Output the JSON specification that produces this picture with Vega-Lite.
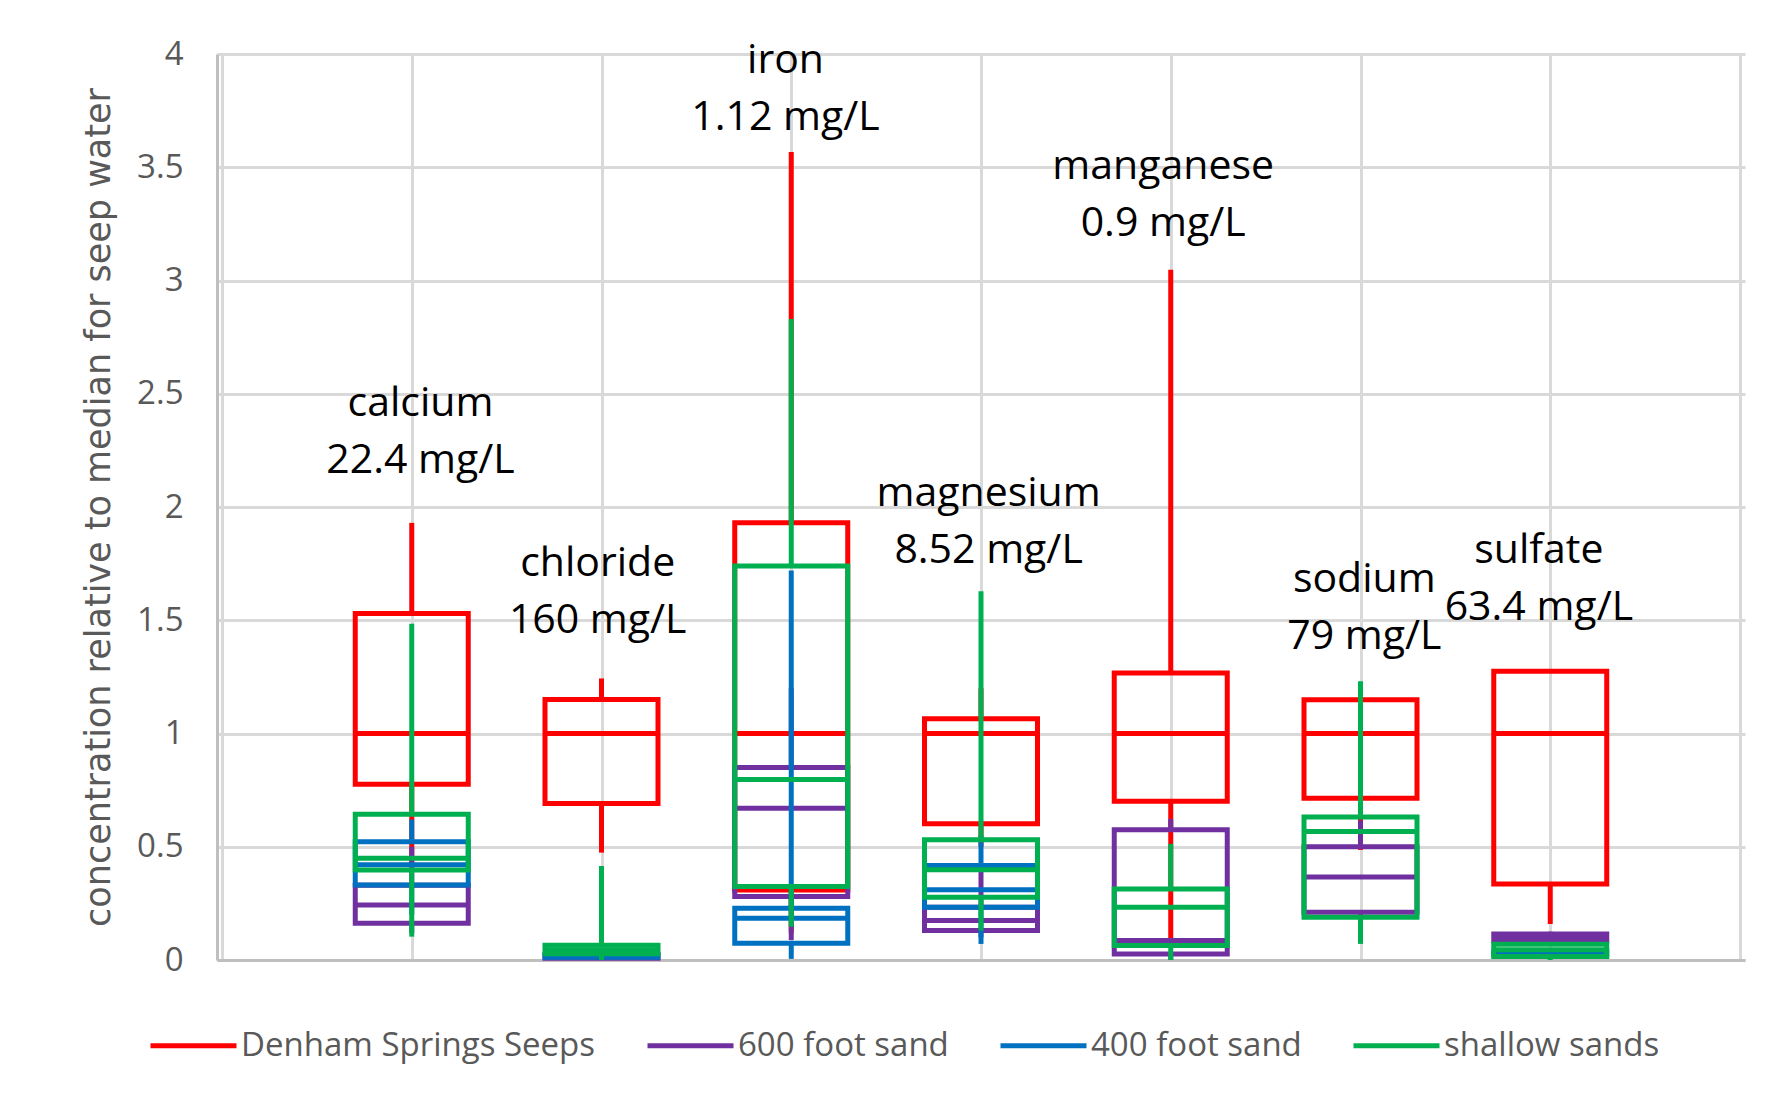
{
  "$schema": "https://vega.github.io/schema/vega-lite/v6.json",
  "width": 1528,
  "height": 906,
  "autosize": {"type": "none"},
  "padding": {"left": 217, "top": 54, "right": 46, "bottom": 141},
  "background": "white",
  "config": {
    "view": {"stroke": null},
    "font": "Open Sans",
    "axisX": {"gridColor": "#d9d9d9", "gridWidth": 3, "domainColor": "#bfbfbf", "domainWidth": 3},
    "axisY": {"gridColor": "#d9d9d9", "gridWidth": 3, "domainColor": "#bfbfbf", "domainWidth": 3, "ticks": false,
      "labelFont": "Open Sans", "labelFontSize": 33, "labelColor": "#595959", "labelPadding": 34,
      "titleFont": "DejaVu Sans", "titleFontSize": 35, "titleColor": "#595959", "titleFontWeight": "normal", "titlePadding": 20}
  },
  "datasets": {
    "boxes": [
      {"constituent": "calcium", "pos": 1, "group": "Denham Springs Seeps", "lo": 0.41, "q1": 0.776, "med": 1.0, "q3": 1.53, "hi": 1.93},
      {"constituent": "calcium", "pos": 1, "group": "600 foot sand", "lo": 0.12, "q1": 0.162, "med": 0.243, "q3": 0.33, "hi": 0.50},
      {"constituent": "calcium", "pos": 1, "group": "400 foot sand", "lo": 0.20, "q1": 0.331, "med": 0.42, "q3": 0.522, "hi": 0.62},
      {"constituent": "calcium", "pos": 1, "group": "shallow sands", "lo": 0.103, "q1": 0.397, "med": 0.449, "q3": 0.643, "hi": 1.485},
      {"constituent": "chloride", "pos": 2, "group": "Denham Springs Seeps", "lo": 0.474, "q1": 0.691, "med": 1.0, "q3": 1.15, "hi": 1.243},
      {"constituent": "chloride", "pos": 2, "group": "600 foot sand", "lo": 0.0, "q1": 0.008, "med": 0.012, "q3": 0.02, "hi": 0.03},
      {"constituent": "chloride", "pos": 2, "group": "400 foot sand", "lo": 0.003, "q1": 0.012, "med": 0.018, "q3": 0.025, "hi": 0.04},
      {"constituent": "chloride", "pos": 2, "group": "shallow sands", "lo": 0.0, "q1": 0.028, "med": 0.045, "q3": 0.065, "hi": 0.415},
      {"constituent": "iron", "pos": 3, "group": "Denham Springs Seeps", "lo": 0.12, "q1": 0.309, "med": 1.0, "q3": 1.93, "hi": 3.567},
      {"constituent": "iron", "pos": 3, "group": "600 foot sand", "lo": 0.088, "q1": 0.28, "med": 0.67, "q3": 0.85, "hi": 1.2},
      {"constituent": "iron", "pos": 3, "group": "400 foot sand", "lo": 0.005, "q1": 0.074, "med": 0.184, "q3": 0.228, "hi": 1.72},
      {"constituent": "iron", "pos": 3, "group": "shallow sands", "lo": 0.147, "q1": 0.324, "med": 0.797, "q3": 1.74, "hi": 2.83},
      {"constituent": "magnesium", "pos": 4, "group": "Denham Springs Seeps", "lo": 0.5, "q1": 0.601, "med": 1.0, "q3": 1.065, "hi": 1.2},
      {"constituent": "magnesium", "pos": 4, "group": "600 foot sand", "lo": 0.1, "q1": 0.13, "med": 0.174, "q3": 0.233, "hi": 0.42},
      {"constituent": "magnesium", "pos": 4, "group": "400 foot sand", "lo": 0.071, "q1": 0.233, "med": 0.31, "q3": 0.417, "hi": 0.55},
      {"constituent": "magnesium", "pos": 4, "group": "shallow sands", "lo": 0.13, "q1": 0.277, "med": 0.398, "q3": 0.531, "hi": 1.628},
      {"constituent": "manganese", "pos": 5, "group": "Denham Springs Seeps", "lo": 0.08, "q1": 0.701, "med": 1.0, "q3": 1.267, "hi": 3.047},
      {"constituent": "manganese", "pos": 5, "group": "600 foot sand", "lo": 0.0, "q1": 0.027, "med": 0.086, "q3": 0.575, "hi": 0.623},
      {"constituent": "manganese", "pos": 5, "group": "shallow sands", "lo": 0.0, "q1": 0.064, "med": 0.233, "q3": 0.314, "hi": 0.513},
      {"constituent": "sodium", "pos": 6, "group": "Denham Springs Seeps", "lo": 0.486, "q1": 0.714, "med": 1.0, "q3": 1.149, "hi": 1.2},
      {"constituent": "sodium", "pos": 6, "group": "600 foot sand", "lo": 0.15, "q1": 0.211, "med": 0.366, "q3": 0.50, "hi": 0.616},
      {"constituent": "sodium", "pos": 6, "group": "shallow sands", "lo": 0.071, "q1": 0.189, "med": 0.567, "q3": 0.631, "hi": 1.231},
      {"constituent": "sulfate", "pos": 7, "group": "Denham Springs Seeps", "lo": 0.159, "q1": 0.336, "med": 1.0, "q3": 1.275, "hi": 1.275},
      {"constituent": "sulfate", "pos": 7, "group": "600 foot sand", "lo": 0.075, "q1": 0.085, "med": 0.1, "q3": 0.115, "hi": 0.125},
      {"constituent": "sulfate", "pos": 7, "group": "400 foot sand", "lo": 0.02, "q1": 0.025, "med": 0.03, "q3": 0.035, "hi": 0.04},
      {"constituent": "sulfate", "pos": 7, "group": "shallow sands", "lo": 0.0, "q1": 0.015, "med": 0.045, "q3": 0.07, "hi": 0.075}
    ],
    "labels": [
      {"pos": 1.046, "ty": 2.456, "label": ["calcium", "22.4 mg/L"]},
      {"pos": 1.98, "ty": 1.75, "label": ["chloride", "160 mg/L"]},
      {"pos": 2.97, "ty": 3.97, "label": ["iron", "1.12 mg/L"]},
      {"pos": 4.04, "ty": 2.056, "label": ["magnesium", "8.52 mg/L"]},
      {"pos": 4.96, "ty": 3.5, "label": ["manganese", "0.9 mg/L"]},
      {"pos": 6.02, "ty": 1.676, "label": ["sodium", "79 mg/L"]},
      {"pos": 6.94, "ty": 1.806, "label": ["sulfate", "63.4 mg/L"]}
    ]
  },
  "layer": [
    {
      "data": {"name": "boxes"},
      "encoding": {
        "x": {"field": "pos", "type": "quantitative", "scale": {"domain": [0, 8], "nice": false},
          "axis": {"values": [0, 1, 2, 3, 4, 5, 6, 7, 8], "labels": false, "ticks": false, "grid": true}, "title": null},
        "color": {"field": "group", "type": "nominal",
          "scale": {"domain": ["Denham Springs Seeps", "600 foot sand", "400 foot sand", "shallow sands"], "range": ["#FF0000", "#7030A0", "#0070C0", "#00B050"]},
          "legend": {"orient": "none", "legendX": -69, "legendY": 946, "direction": "horizontal", "title": null,
            "symbolType": "stroke", "symbolSize": 7396, "symbolStrokeWidth": 5, "labelLimit": 600,
            "labelFont": "Open Sans", "labelFontSize": 33, "labelColor": "#595959", "labelOffset": 2, "columnPadding": 41, "padding": 0}}
      },
      "layer": [
        {
          "transform": [{"filter": "datum.group === 'Denham Springs Seeps'"}],
          "layer": [
            {"mark": {"type": "rule", "strokeWidth": 5}, "encoding": {"y": {"field": "q3", "type": "quantitative", "scale": {"domain": [0, 4], "nice": false}, "title": "concentration relative to median for seep water", "axis": {"values": [0, 0.5, 1, 1.5, 2, 2.5, 3, 3.5, 4], "format": "~g"}}, "y2": {"field": "hi"}}},
            {"mark": {"type": "rule", "strokeWidth": 5}, "encoding": {"y": {"field": "lo", "type": "quantitative", "scale": {"domain": [0, 4], "nice": false}, "title": "concentration relative to median for seep water", "axis": {"values": [0, 0.5, 1, 1.5, 2, 2.5, 3, 3.5, 4], "format": "~g"}}, "y2": {"field": "q1"}}},
            {"mark": {"type": "bar", "filled": false, "width": 113, "strokeWidth": 5, "opacity": 1}, "encoding": {"y": {"field": "q1", "type": "quantitative", "scale": {"domain": [0, 4], "nice": false}, "title": "concentration relative to median for seep water", "axis": {"values": [0, 0.5, 1, 1.5, 2, 2.5, 3, 3.5, 4], "format": "~g"}}, "y2": {"field": "q3"}}},
            {"mark": {"type": "tick", "orient": "horizontal", "size": 113, "thickness": 5, "opacity": 1}, "encoding": {"y": {"field": "med", "type": "quantitative", "scale": {"domain": [0, 4], "nice": false}, "title": "concentration relative to median for seep water", "axis": {"values": [0, 0.5, 1, 1.5, 2, 2.5, 3, 3.5, 4], "format": "~g"}}}}
          ]
        },
        {
          "transform": [{"filter": "datum.group === '600 foot sand'"}],
          "layer": [
            {"mark": {"type": "rule", "strokeWidth": 5}, "encoding": {"y": {"field": "q3", "type": "quantitative", "scale": {"domain": [0, 4], "nice": false}, "title": "concentration relative to median for seep water", "axis": {"values": [0, 0.5, 1, 1.5, 2, 2.5, 3, 3.5, 4], "format": "~g"}}, "y2": {"field": "hi"}}},
            {"mark": {"type": "rule", "strokeWidth": 5}, "encoding": {"y": {"field": "lo", "type": "quantitative", "scale": {"domain": [0, 4], "nice": false}, "title": "concentration relative to median for seep water", "axis": {"values": [0, 0.5, 1, 1.5, 2, 2.5, 3, 3.5, 4], "format": "~g"}}, "y2": {"field": "q1"}}},
            {"mark": {"type": "bar", "filled": false, "width": 113, "strokeWidth": 5, "opacity": 1}, "encoding": {"y": {"field": "q1", "type": "quantitative", "scale": {"domain": [0, 4], "nice": false}, "title": "concentration relative to median for seep water", "axis": {"values": [0, 0.5, 1, 1.5, 2, 2.5, 3, 3.5, 4], "format": "~g"}}, "y2": {"field": "q3"}}},
            {"mark": {"type": "tick", "orient": "horizontal", "size": 113, "thickness": 5, "opacity": 1}, "encoding": {"y": {"field": "med", "type": "quantitative", "scale": {"domain": [0, 4], "nice": false}, "title": "concentration relative to median for seep water", "axis": {"values": [0, 0.5, 1, 1.5, 2, 2.5, 3, 3.5, 4], "format": "~g"}}}}
          ]
        },
        {
          "transform": [{"filter": "datum.group === '400 foot sand'"}],
          "layer": [
            {"mark": {"type": "rule", "strokeWidth": 5}, "encoding": {"y": {"field": "q3", "type": "quantitative", "scale": {"domain": [0, 4], "nice": false}, "title": "concentration relative to median for seep water", "axis": {"values": [0, 0.5, 1, 1.5, 2, 2.5, 3, 3.5, 4], "format": "~g"}}, "y2": {"field": "hi"}}},
            {"mark": {"type": "rule", "strokeWidth": 5}, "encoding": {"y": {"field": "lo", "type": "quantitative", "scale": {"domain": [0, 4], "nice": false}, "title": "concentration relative to median for seep water", "axis": {"values": [0, 0.5, 1, 1.5, 2, 2.5, 3, 3.5, 4], "format": "~g"}}, "y2": {"field": "q1"}}},
            {"mark": {"type": "bar", "filled": false, "width": 113, "strokeWidth": 5, "opacity": 1}, "encoding": {"y": {"field": "q1", "type": "quantitative", "scale": {"domain": [0, 4], "nice": false}, "title": "concentration relative to median for seep water", "axis": {"values": [0, 0.5, 1, 1.5, 2, 2.5, 3, 3.5, 4], "format": "~g"}}, "y2": {"field": "q3"}}},
            {"mark": {"type": "tick", "orient": "horizontal", "size": 113, "thickness": 5, "opacity": 1}, "encoding": {"y": {"field": "med", "type": "quantitative", "scale": {"domain": [0, 4], "nice": false}, "title": "concentration relative to median for seep water", "axis": {"values": [0, 0.5, 1, 1.5, 2, 2.5, 3, 3.5, 4], "format": "~g"}}}}
          ]
        },
        {
          "transform": [{"filter": "datum.group === 'shallow sands'"}],
          "layer": [
            {"mark": {"type": "rule", "strokeWidth": 5}, "encoding": {"y": {"field": "q3", "type": "quantitative", "scale": {"domain": [0, 4], "nice": false}, "title": "concentration relative to median for seep water", "axis": {"values": [0, 0.5, 1, 1.5, 2, 2.5, 3, 3.5, 4], "format": "~g"}}, "y2": {"field": "hi"}}},
            {"mark": {"type": "rule", "strokeWidth": 5}, "encoding": {"y": {"field": "lo", "type": "quantitative", "scale": {"domain": [0, 4], "nice": false}, "title": "concentration relative to median for seep water", "axis": {"values": [0, 0.5, 1, 1.5, 2, 2.5, 3, 3.5, 4], "format": "~g"}}, "y2": {"field": "q1"}}},
            {"mark": {"type": "bar", "filled": false, "width": 113, "strokeWidth": 5, "opacity": 1}, "encoding": {"y": {"field": "q1", "type": "quantitative", "scale": {"domain": [0, 4], "nice": false}, "title": "concentration relative to median for seep water", "axis": {"values": [0, 0.5, 1, 1.5, 2, 2.5, 3, 3.5, 4], "format": "~g"}}, "y2": {"field": "q3"}}},
            {"mark": {"type": "tick", "orient": "horizontal", "size": 113, "thickness": 5, "opacity": 1}, "encoding": {"y": {"field": "med", "type": "quantitative", "scale": {"domain": [0, 4], "nice": false}, "title": "concentration relative to median for seep water", "axis": {"values": [0, 0.5, 1, 1.5, 2, 2.5, 3, 3.5, 4], "format": "~g"}}}}
          ]
        }
      ]
    },
    {
      "data": {"name": "labels"},
      "mark": {"type": "text", "font": "Open Sans", "fontSize": 41, "lineHeight": 57, "color": "black", "align": "center", "baseline": "middle"},
      "encoding": {
        "x": {"field": "pos", "type": "quantitative", "scale": {"domain": [0, 8], "nice": false},
          "axis": {"values": [0, 1, 2, 3, 4, 5, 6, 7, 8], "labels": false, "ticks": false, "grid": true}, "title": null},
        "y": {"field": "ty", "type": "quantitative", "scale": {"domain": [0, 4], "nice": false}, "title": "concentration relative to median for seep water", "axis": {"values": [0, 0.5, 1, 1.5, 2, 2.5, 3, 3.5, 4], "format": "~g"}},
        "text": {"field": "label"}
      }
    }
  ]
}
